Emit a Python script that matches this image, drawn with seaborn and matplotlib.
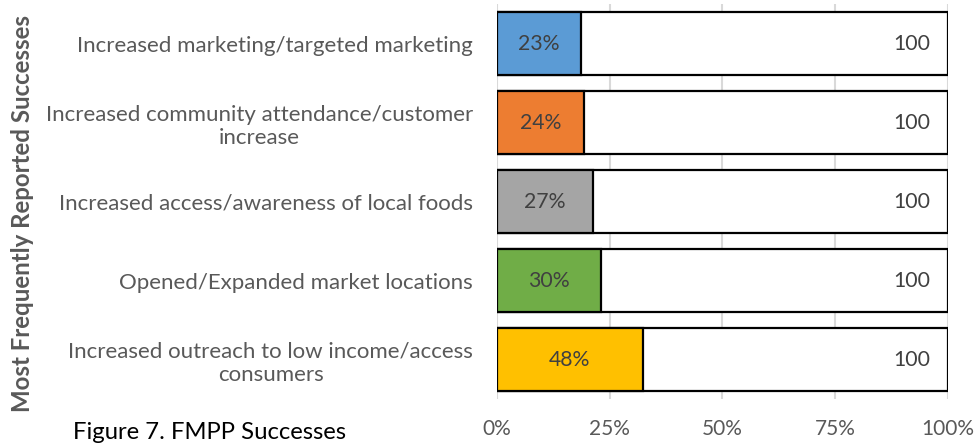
import numpy as np
import pandas as pd
import seaborn as sns
import matplotlib.pyplot as plt

# Data (100% stacked bar: reported share vs. a base of 100)
categories = [
    "Increased marketing/targeted marketing",
    "Increased community attendance/customer\nincrease",
    "Increased access/awareness of local foods",
    "Opened/Expanded market locations",
    "Increased outreach to low income/access\nconsumers",
]
percent_values = [23, 24, 27, 30, 48]
base_values = [100, 100, 100, 100, 100]
bar_colors = ["#5B9BD5", "#ED7D31", "#A5A5A5", "#70AD47", "#FFC000"]
x_ticks = [0, 0.25, 0.5, 0.75, 1.0]
x_tick_labels = ["0%", "25%", "50%", "75%", "100%"]

sns.set_theme(style="white")
plt.rcParams["font.family"] = ["Lato", "DejaVu Sans"]
text_gray = "#595959"

df = pd.DataFrame({
    "category": categories,
    "value": percent_values,
    "base": base_values,
})
total = df["value"] + df["base"]
df["share"] = df["value"] / total
df["full"] = (df["value"] + df["base"]) / total

fig = plt.figure(figsize=(9.76, 4.45), dpi=100)
ax = fig.add_axes([0.509, 0.103, 0.462, 0.888])

# full-width white bars, then colored share on top
sns.barplot(data=df, x="full", y="category", color="white", edgecolor="black",
            linewidth=1.6, width=0.8, saturation=1, ax=ax, zorder=2)
sns.barplot(data=df, x="share", y="category", hue="category", palette=bar_colors,
            edgecolor="black", linewidth=1.6, width=0.8, saturation=1,
            legend=False, ax=ax, zorder=3)

for i, row in df.iterrows():
    ax.text(row["share"] / 2, i, f"{row['value']}%", ha="center", va="center",
            fontsize=15.3, color="#404040", zorder=4)
    ax.annotate(f"{row['base']}", xy=(row["full"], i), xytext=(-17, 0),
                textcoords="offset pixels", ha="right", va="center",
                fontsize=15.3, color="#404040", zorder=4)

ax.set_xlim(0, 1)
ax.set_ylim(4.5, -0.5)
ax.set_xticks(x_ticks)
ax.set_xticklabels(x_tick_labels, fontsize=15, color=text_gray)
ax.xaxis.grid(True, color="#D9D9D9", linewidth=1.5, zorder=0)
ax.set_axisbelow(True)
for s in ax.spines.values():
    s.set_visible(False)
ax.tick_params(axis="x", length=0, pad=14)
ax.tick_params(axis="y", length=0, pad=17)
for lbl in ax.get_yticklabels():
    lbl.set_fontsize(16)
    lbl.set_color(text_gray)
    lbl.set_multialignment("center")
ax.set_xlabel("")
ax.set_ylabel("")

fig.text(0.023, 0.52, "Most Frequently Reported Successes", rotation=90,
         ha="center", va="center", fontsize=17.3, fontweight="bold", color=text_gray)
fig.text(0.075, 0.027, "Figure 7. FMPP Successes", ha="left", va="center",
         fontsize=17.2, color="black")

fig.savefig("out.png", dpi=100)
